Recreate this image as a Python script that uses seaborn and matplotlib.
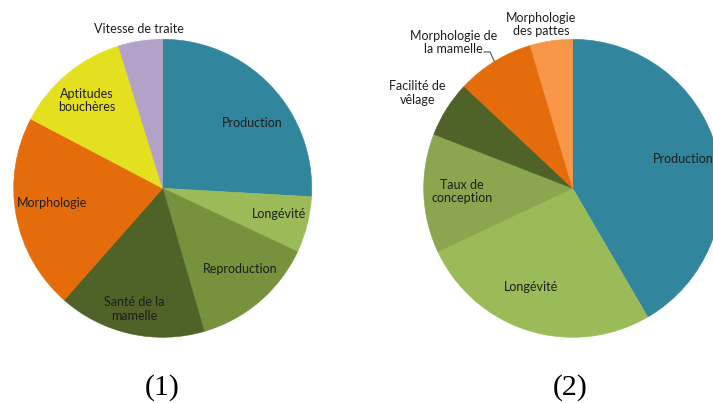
import numpy as np
import matplotlib
matplotlib.use("Agg")
import matplotlib.pyplot as plt
import seaborn as sns

# --- Chart (1): weights of trait groups in the breeding index ---
labels_1 = ["Production", "Longévité", "Reproduction", "Santé de la\nmamelle",
            "Morphologie", "Aptitudes\nbouchères", "Vitesse de traite"]
shares_1 = [25.9, 6.1, 13.5, 16.0, 21.2, 12.5, 4.8]
colors_1 = ["#31859C", "#9BBB59", "#76923C", "#4F6228",
            "#E46C0A", "#E5E01F", "#B2A2C7"]

# --- Chart (2) ---
labels_2 = ["Production", "Longévité", "Taux de\nconception", "Facilité de\nvêlage",
            "Morphologie de\nla mamelle", "Morphologie\ndes pattes"]
shares_2 = [41.6, 26.4, 12.9, 6.1, 8.4, 4.6]
colors_2 = ["#31859C", "#9BBB59", "#8AA64F", "#4F6228", "#E46C0A", "#F79646"]

panel_titles = ["(1)", "(2)"]

# Label anchors, in units of the pie radius (x right, y up)
label_pos_1 = [(0.60, 0.44), (0.78, -0.17), (0.52, -0.54), (-0.19, -0.81),
               (-0.745, -0.10), (-0.51, 0.59), (-0.16, 1.07)]
label_pos_2 = [(0.745, 0.195), (-0.28, -0.66), (-0.745, -0.02), (-1.04, 0.64),
               (-0.80, 0.98), (-0.21, 1.10)]

sns.set_theme(style="white")
plt.rcParams["font.family"] = ["Lato", "DejaVu Sans"]

W, H = 713, 403
fig = plt.figure(figsize=(W / 100, H / 100), dpi=100)
fig.patch.set_facecolor("white")

R_PX = 149
centers_px = [(162.7, 188.3), (572.7, 188.3)]
text_color = "#1e1e1e"


def draw_pie(center, shares, colors, labels, positions, leader_index=None):
    cx, cy = center
    ax = fig.add_axes([(cx - R_PX) / W, (H - cy - R_PX) / H, 2 * R_PX / W, 2 * R_PX / H])
    wedges, _ = ax.pie(shares, colors=sns.color_palette(colors), startangle=90,
                       counterclock=False, radius=1.0,
                       wedgeprops=dict(linewidth=0.4))
    for w in wedges:
        w.set_edgecolor(w.get_facecolor())
    ax.set_xlim(-1, 1)
    ax.set_ylim(-1, 1)
    ax.set_aspect("equal")
    ax.axis("off")
    for lab, (x, y) in zip(labels, positions):
        ax.text(x, y, lab, ha="center", va="center", fontsize=9, color=text_color,
                linespacing=1.15, clip_on=False)
    if leader_index is not None:
        w = wedges[leader_index]
        mid = np.deg2rad((w.theta1 + w.theta2) / 2)
        ex, ey = np.cos(mid), np.sin(mid)
        lx, ly = positions[leader_index]
        start = (lx + 0.205, ly - 0.065)
        knee = (start[0] + 0.04, start[1])
        ax.plot([start[0], knee[0], ex], [start[1], knee[1], ey],
                color="#555555", lw=0.8, clip_on=False)
    return ax


draw_pie(centers_px[0], shares_1, colors_1, labels_1, label_pos_1)
draw_pie(centers_px[1], shares_2, colors_2, labels_2, label_pos_2, leader_index=4)

for (cx, _), title in zip([(162.0, 0), (570.0, 0)], panel_titles):
    fig.text(cx / W, 2 / H, title, ha="center", va="bottom", fontsize=21.5,
             family=["Liberation Serif", "DejaVu Serif"], color="black")

fig.savefig("out.png", dpi=100)
